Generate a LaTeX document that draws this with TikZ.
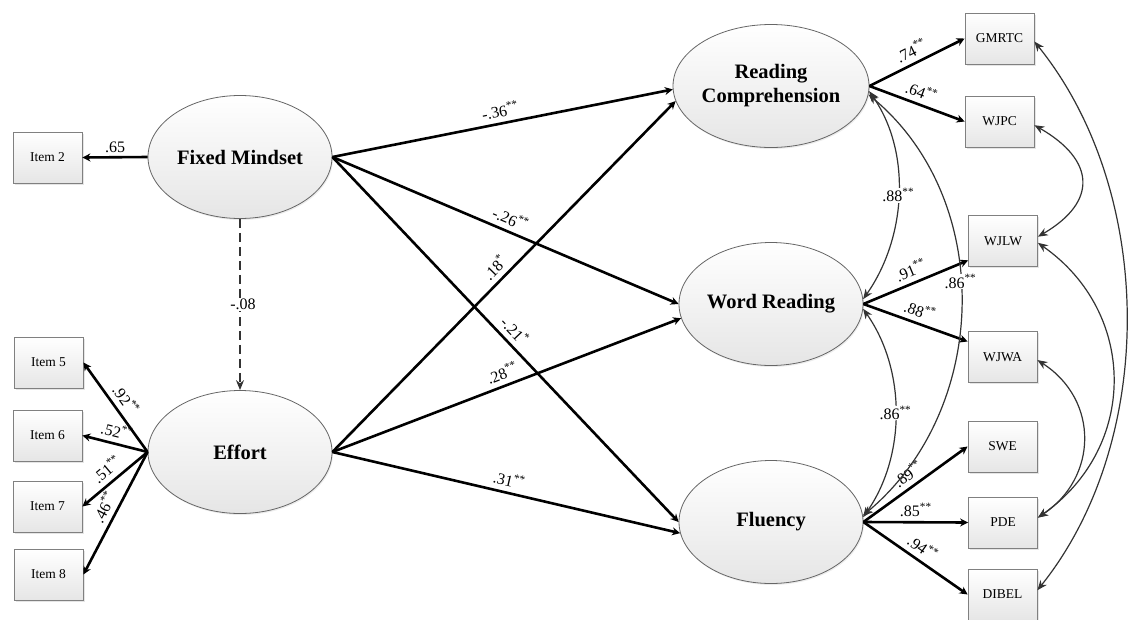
\documentclass[tikz,border=0pt]{standalone}
\usepackage{fontspec}
\setmainfont{Liberation Serif}
\usetikzlibrary{shapes.geometric,arrows.meta,shadows}
\newcommand{\twostar}{\textsuperscript{**}}
\newcommand{\onestar}{\textsuperscript{*}}
\tikzset{
  latent/.style={ellipse, draw=black!60, line width=0.8pt, top color=white, bottom color=black!10,
    minimum width=184pt, minimum height=123pt, inner sep=0pt, align=center,
    font=\fontsize{20.5}{24}\selectfont\bfseries,
    drop shadow={shadow xshift=1pt, shadow yshift=-1.5pt, opacity=0.15}},
  obs/.style={rectangle, draw=black!50, line width=0.8pt, top color=white, bottom color=black!10,
    minimum width=69pt, minimum height=51pt, inner sep=0pt,
    font=\fontsize{13.5}{16}\selectfont,
    drop shadow={shadow xshift=1.5pt, shadow yshift=-1.5pt, opacity=0.2}},
  reg/.style={line width=2.6pt, draw=black, -{Stealth[length=8pt,width=8pt]}},
  cov/.style={line width=1.2pt, draw=black!80,
    {Stealth[length=10pt,width=8pt]}-{Stealth[length=10pt,width=8pt]}},
  dashline/.style={line width=1.3pt, draw=black!80, dash pattern=on 9pt off 5pt,
    -{Stealth[length=10pt,width=8pt]}},
  coef/.style={font=\fontsize{16}{16}\selectfont, inner sep=1pt},
  slab/.style={coef, sloped, above=4pt, pos=0.5},
  covlab/.style={coef, fill=white, inner sep=0.5pt}
}
\begin{document}
\begin{tikzpicture}[x=1pt,y=-1pt]
\useasboundingbox (0,0) rectangle (1132,619);
\fill[white] (0,0) rectangle (1132,619);

% latent variables
\node[latent] (fm) at (240,157) {Fixed Mindset};
\node[latent] (eff) at (240,452) {Effort};
\node[latent] (rc) at (771,86) {Reading\\Comprehension};
\node[latent] (wr) at (771,304) {Word Reading};
\node[latent] (fl) at (771,522) {Fluency};

% indicators left
\node[obs] (i2) at (47.5,157.5) {Item 2};
\node[obs] (i5) at (48.5,362.5) {Item 5};
\node[obs] (i6) at (47.5,435.5) {Item 6};
\node[obs] (i7) at (47.5,506.5) {Item 7};
\node[obs] (i8) at (48.5,574.5) {Item 8};

% indicators right
\node[obs] (gmrtc) at (999.5,38.5) {GMRTC};
\node[obs] (wjpc) at (999.5,121.5) {WJPC};
\node[obs] (wjlw) at (1003,241) {WJLW};
\node[obs] (wjwa) at (1002.5,357) {WJWA};
\node[obs] (swe) at (1002.5,446.5) {SWE};
\node[obs] (pde) at (1003,522.5) {PDE};
\node[obs] (dibel) at (1002.5,594.5) {DIBEL};

% loadings left
\draw[reg] (fm.west) -- node[coef, above=2pt, pos=0.5] (l65) {.65} (i2.east);
\draw[reg] (eff.west) -- node[slab, pos=0.5] (l92) {.92\twostar} (i5.east);
\draw[reg] (eff.west) -- node[slab, pos=0.52] (l52) {.52\twostar} (i6.east);
\draw[reg] (eff.west) -- node[slab, pos=0.5] (l51) {.51\twostar} (i7.east);
\draw[reg] (eff.west) -- node[slab, pos=0.5] (l46) {.46\twostar} (i8.east);

% dashed path
\draw[dashline] (fm.south) -- node[coef, fill=white, pos=0.5, xshift=3pt] (l08) {-.08} (eff.north);

% structural paths
\draw[reg] (fm.east) -- node[slab] (l36) {-.36\twostar} (rc.182);
\draw[reg] (fm.east) -- node[slab] (l26) {-.26\twostar} (wr.180);
\draw[reg] (fm.east) -- node[slab] (l21) {-.21\onestar} (fl.180);
\draw[reg] (eff.east) -- node[slab] (l18) {.18\onestar} (rc.189);
\draw[reg] (eff.east) -- node[slab] (l28) {.28\twostar} (wr.189);
\draw[reg] (eff.east) -- node[slab] (l31) {.31\twostar} (fl.187);

% loadings right
\draw[reg] (rc.east) -- node[slab] (l74) {.74\twostar} (gmrtc.west);
\draw[reg] (rc.east) -- node[slab] (l64) {.64\twostar} (wjpc.west);
\draw[reg] (wr.east) -- node[slab] (l91) {.91\twostar} (wjlw.209);
\draw[reg] (wr.east) -- node[slab] (l88b) {.88\twostar} (wjwa.156);
\draw[reg] (fl.east) -- node[slab] (l89) {.89\twostar} (swe.west);
\draw[reg] (fl.east) -- node[coef, above=3pt, pos=0.5] (l85) {.85\twostar} (pde.west);
\draw[reg] (fl.east) -- node[slab] (l94) {.94\twostar} (dibel.west);

% factor correlations
\draw[cov] (rc.-3) .. controls +(43,61) and +(43,-61) .. node[covlab, pos=0.5] (c88) {.88\twostar} (wr.3);
\draw[cov] (rc.-5) .. controls +(127,106) and +(127,-106) .. node[covlab, pos=0.45] (c86a) {.86\twostar} (fl.4);
\draw[cov] (wr.-3) .. controls +(43,61) and +(43,-61) .. node[covlab, pos=0.5] (c86b) {.86\twostar} (fl.3);

% residual correlations
\draw[cov] (wjpc.-6) .. controls +(61,35) and +(60,-35) .. (wjlw.7);
\draw[cov] (wjlw.-3) .. controls +(100,70) and +(100,-70) .. (pde.8);
\draw[cov] (wjwa.-5) .. controls +(62,40) and +(60,-40) .. (pde.8);
\draw[cov] (gmrtc.-5) .. controls +(121,150) and +(120,-150) .. (dibel.7);
\end{tikzpicture}
\end{document}
